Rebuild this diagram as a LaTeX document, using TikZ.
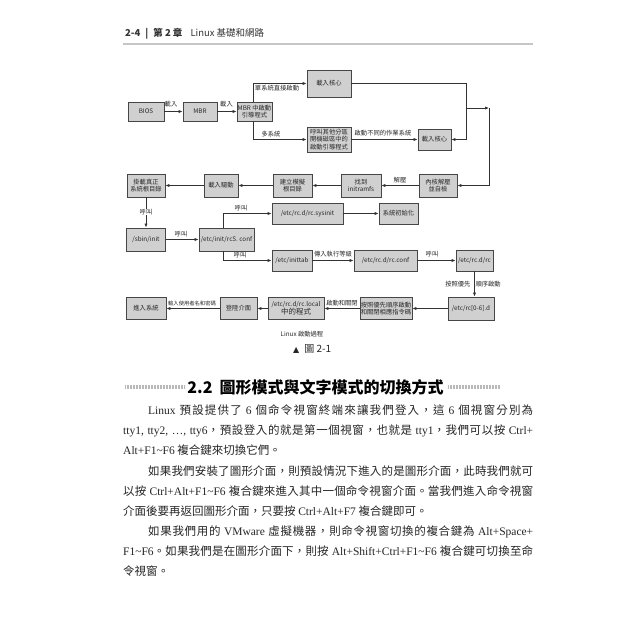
\documentclass[tikz,border=0pt]{standalone}
\usepackage{fontspec}
\setmainfont{Noto Sans CJK TC}
\newfontfamily\lat{Liberation Serif}
\newfontfamily\symf{DejaVu Sans}
\usetikzlibrary{arrows.meta}
\newXeTeXintercharclass\cjkc
\newcount\cjkcnt
\cjkcnt="4E00
\loop
  \XeTeXcharclass\cjkcnt=\cjkc
  \ifnum\cjkcnt<"9FFF \advance\cjkcnt by 1
\repeat
\XeTeXcharclass"FF0C=\cjkc
\XeTeXcharclass"3002=\cjkc
\XeTeXcharclass"3001=\cjkc
\XeTeXinterchartoks\cjkc\cjkc={\hskip0pt plus 1.5pt\relax}
\XeTeXinterchartokenstate=1
\definecolor{bfill}{RGB}{208,208,208}
\definecolor{bline}{RGB}{70,70,70}
\definecolor{lc}{RGB}{50,50,50}
\definecolor{tc}{RGB}{40,40,40}
\newcommand\Lw[1]{{\lat\fontsize{11.5}{14}\selectfont #1}}
\newlength\jspace
\setlength\jspace{3pt plus 1.2pt}
\newcommand\jline[2]{\hbox to #1{\spaceskip=\jspace #2}}
\tikzset{
 bx/.style={draw=bline, fill=bfill, line width=0.8pt, inner sep=0pt, align=center, font=\fontsize{6.3}{7.4}\selectfont, text=tc},
 lab/.style={font=\fontsize{6.3}{7.4}\selectfont, text=tc, inner sep=0.5pt},
 con/.style={draw=lc, line width=0.7pt},
 arr/.style={con, -{Latex[length=4pt,width=3.2pt]}},
 body/.style={anchor=base west, inner sep=0pt, font=\fontsize{11.5}{14}\selectfont, text=black!85},
}
\begin{document}
\begin{tikzpicture}[x=1pt,y=-1pt]
\fill[white] (0,0) rectangle (640,640);
\useasboundingbox (0,0) rectangle (640,640);
% header
\node[anchor=base west, inner sep=0pt, font=\fontsize{9.5}{11}\selectfont, text=black!80] (hd) at (125,36) {\bfseries 2-4\hspace{5pt}|\hspace{5pt}第 2 章\hspace{8pt}\mdseries Linux 基礎和網路};
\draw[gray!45, line width=1.5pt] (123,44) -- (533,44);
% row 1
\node[bx, minimum width=36pt, minimum height=19pt] (bios) at (146,111.5) {BIOS};
\node[bx, minimum width=34pt, minimum height=19pt] (mbr) at (200,111.5) {MBR};
\node[bx, minimum width=35pt, minimum height=19pt] (mbrload) at (254.5,111.5) {MBR 中啟動\\引導程式};
\node[bx, minimum width=44pt, minimum height=27pt] (k1) at (329,83.5) {載入核心};
\node[bx, minimum width=44pt, minimum height=25pt] (other) at (329,139.5) {呼叫其他分區\\開機磁區中的\\啟動引導程式};
\node[bx, minimum width=33pt, minimum height=21pt] (k2) at (434.5,139.5) {載入核心};
\draw[arr] (bios) -- (mbr);
\draw[arr] (mbr) -- (mbrload);
\node[lab] (l1) at (171,104.5) {載入};
\node[lab] (l2) at (226.5,104.5) {載入};
\coordinate (s1) at (253,83.5);
\coordinate (s2) at (253,139.5);
\draw[arr] (mbrload.north -| s1) -- (s1) -- (k1);
\draw[arr] (mbrload.south -| s1) -- (s2) -- (other);
\node[lab] (l3) at (277,88.5) {單系統直接啟動};
\node[lab] (l4) at (271,134) {多系統};
\draw[arr] (other) -- (k2);
\node[lab] (l5) at (383,133.5) {啟動不同的作業系統};
\coordinate (r1) at (466,83.5);
\coordinate (r2) at (466,108);
\coordinate (r3) at (489,108);
\coordinate (r4) at (489,185.5);
\draw[arr] (k1) -- (r1) -- (r1 |- k2) -- (k2);
\draw[arr] (r2) -- (r3);
% row 2
\node[bx, minimum width=38pt, minimum height=23pt] (mount) at (146,185.5) {掛載真正\\系統根目錄};
\node[bx, minimum width=34pt, minimum height=23pt] (driver) at (221,185.5) {載入驅動};
\node[bx, minimum width=39pt, minimum height=23pt] (fake) at (292.5,185.5) {建立模擬\\根目錄};
\node[bx, minimum width=40pt, minimum height=23pt] (initramfs) at (361,185.5) {找到\\initramfs};
\node[bx, minimum width=38pt, minimum height=23pt] (decomp) at (438,185.5) {內核解壓\\並自檢};
\draw[arr] (r3) -- (r4) -- (decomp);
\draw[arr] (decomp) -- (initramfs);
\node[lab] (l6) at (400,180.5) {解壓};
\draw[arr] (initramfs) -- (fake);
\draw[arr] (fake) -- (driver);
\draw[arr] (driver) -- (mount);
% row 3
\node[bx, minimum width=71pt, minimum height=21pt] (sysinit) at (307.5,213.5) {/etc/rc.d/rc.sysinit};
\node[bx, minimum width=39pt, minimum height=21pt] (sysok) at (398.5,213.5) {系統初始化};
\node[bx, minimum width=39pt, minimum height=23pt] (sbin) at (146,239.5) {/sbin/init};
\node[bx, minimum width=55pt, minimum height=23pt] (rcs) at (226.5,239.5) {/etc/init/rcS. conf};
\draw[arr] (mount) -- (sbin);
\node[lab, fill=white] (l7) at (146,212) {呼叫};
\draw[arr] (sbin) -- (rcs);
\node[lab] (l8) at (181,234) {呼叫};
\coordinate (b1) at (223,213.5);
\coordinate (b2) at (223,260.5);
\draw[arr] (rcs.north -| b1) -- (b1) -- (sysinit);
\node[lab] (l9) at (241,208.5) {呼叫};
\draw[arr] (sysinit) -- (sysok);
% row 4
\node[bx, minimum width=40pt, minimum height=21pt] (inittab) at (292,260.5) {/etc/inittab};
\node[bx, minimum width=63pt, minimum height=21pt] (rcconf) at (385.5,260.5) {/etc/rc.d/rc.conf};
\node[bx, minimum width=37pt, minimum height=21pt] (rc) at (474.5,260.5) {/etc/rc.d/rc};
\draw[arr] (rcs.south -| b1) -- (b2) -- (inittab);
\node[lab] (l10) at (240,255.5) {呼叫};
\draw[arr] (inittab) -- (rcconf);
\node[lab] (l11) at (333,254.5) {傳入執行等級};
\draw[arr] (rcconf) -- (rc);
\node[lab] (l12) at (432,254.5) {呼叫};
% row 5
\node[bx, minimum width=46pt, minimum height=23pt] (rc06) at (471,308.5) {/etc/rc[0-6].d};
\node[bx, minimum width=52pt, minimum height=22pt] (prio) at (386,308.5) {按照優先順序啟動\\和關閉相應指令碼};
\node[bx, minimum width=56pt, minimum height=22pt] (rclocal) at (296,308.5) {/etc/rc.d/rc.local\\{\fontsize{7.5}{8.5}\selectfont 中的程式}};
\node[bx, minimum width=37pt, minimum height=22pt] (login) at (238.5,308.5) {登陸介面};
\node[bx, minimum width=40pt, minimum height=22pt] (enter) at (146,308.5) {進入系統};
\draw[arr] (rc.south) -- (rc.south |- rc06.north);
\node[lab] (l13) at (473,284) {按照優先\hspace{5pt}順序啟動};
\draw[arr] (rc06) -- (prio);
\draw[arr] (prio) -- (rclocal);
\node[lab] (l14) at (342,303) {啟動和關閉};
\draw[arr] (rclocal) -- (login);
\draw[arr] (login) -- (enter);
\node[lab, font=\fontsize{5.3}{6}\selectfont] (l15) at (192,303.5) {輸入使用者名和密碼};
% caption
\node[lab] (cap) at (302,334) {Linux 啟動過程};
\node[anchor=base west, inner sep=0pt, font=\fontsize{10}{12}\selectfont, text=black!85] (fig) at (293,352) {{\symf\fontsize{8}{10}\selectfont ▲}\hspace{5pt}圖 2-1};
% heading
\draw[gray!55, line width=4.5pt, dash pattern=on 0.6pt off 0.9pt] (125,387) -- (185,387);
\draw[gray!55, line width=4.5pt, dash pattern=on 0.6pt off 0.9pt] (448,387) -- (500,387);
\node[font=\fontsize{16}{18}\selectfont\bfseries, text=black, inner sep=0pt] (head) at (315.5,387) {2.2\hspace{7pt}圖形模式與文字模式的切換方式};
% body
\node[body] (t1) at (148,414) {\jline{385pt}{\Lw{Linux} 預設提供了 \Lw{6} 個命令視窗終端來讓我們登入，這 \Lw{6} 個視窗分別為}};
\node[body] (t2) at (123,434.5) {\jline{410pt}{\Lw{tty1, tty2, …, tty6}，預設登入的就是第一個視窗，也就是 \Lw{tty1}，我們可以按 \Lw{Ctrl+}}};
\node[body] (t3) at (123,454.5) {\Lw{Alt+F1\textasciitilde F6} 複合鍵來切換它們。};
\node[body] (t4) at (148,475) {\jline{385pt}{如果我們安裝了圖形介面，則預設情況下進入的是圖形介面，此時我們就可}};
\node[body] (t5) at (123,495.5) {\jline{410pt}{以按 \Lw{Ctrl+Alt+F1\textasciitilde F6} 複合鍵來進入其中一個命令視窗介面。當我們進入命令視窗}};
\node[body] (t6) at (123,515.5) {介面後要再返回圖形介面，只要按 \Lw{Ctrl+Alt+F7} 複合鍵即可。};
\node[body] (t7) at (148,535.5) {\jline{385pt}{如果我們用的 \Lw{VMware} 虛擬機器，則命令視窗切換的複合鍵為 \Lw{Alt+Space+}}};
\node[body] (t8) at (123,555.5) {\jline{410pt}{\Lw{F1\textasciitilde F6}。如果我們是在圖形介面下，則按 \Lw{Alt+Shift+Ctrl+F1\textasciitilde F6} 複合鍵可切換至命}};
\node[body] (t9) at (123,575.5) {令視窗。};
\end{tikzpicture}
\end{document}
